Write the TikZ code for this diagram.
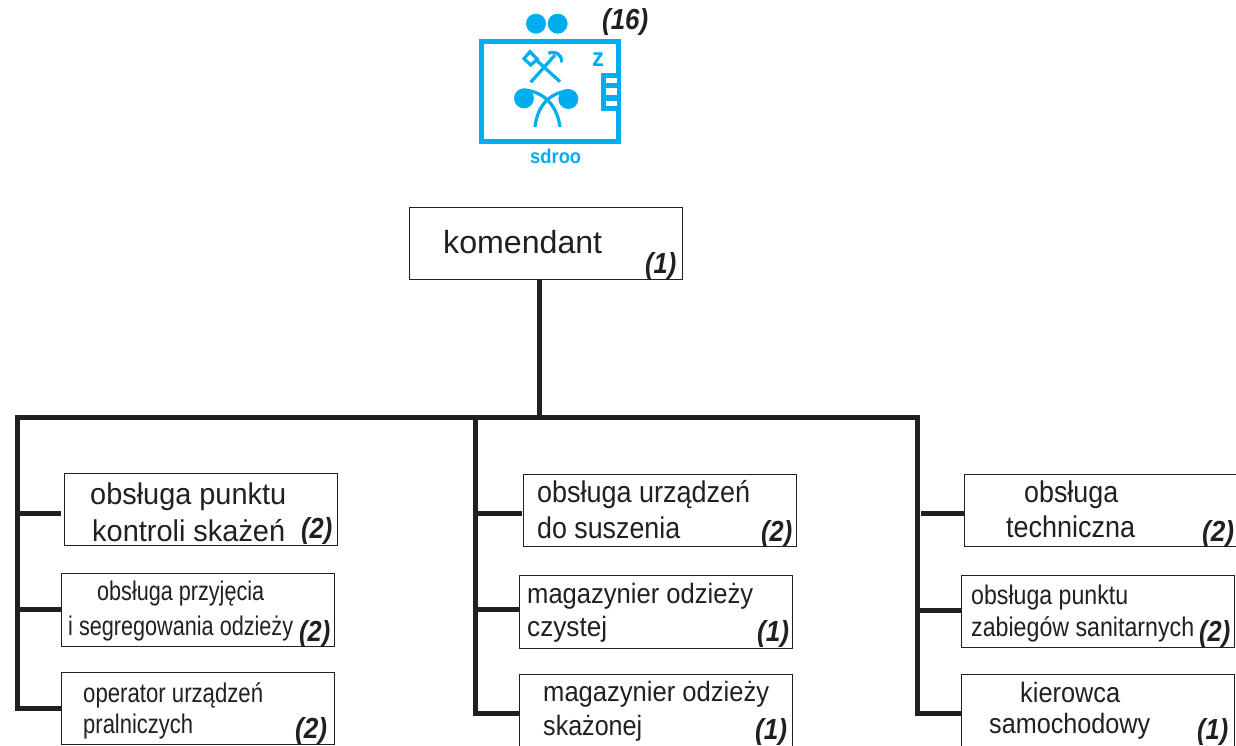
\documentclass[tikz,border=0pt]{standalone}
\usepackage{fontspec}
\usepackage{graphicx}
\setmainfont{Liberation Sans}
\newcommand\fitw[3]{\resizebox{#1pt}{\height}{\fontsize{#2pt}{#2pt}\selectfont #3}}
\newcommand\cnt[2]{\resizebox{#1pt}{\height}{\fontsize{29pt}{29pt}\selectfont\bfseries\itshape #2}}
\definecolor{badge}{HTML}{00AEEF}
\definecolor{ink}{HTML}{231F20}
\tikzset{
  box/.style={draw=ink,line width=0.8pt,fill=white,inner sep=0pt,anchor=north west},
  lab/.style={inner sep=0pt,anchor=base west,text=ink},
  conn/.style={draw=ink,line width=5pt},
  sym/.style={draw=badge,line width=3.2pt}
}
\begin{document}
\begin{tikzpicture}[x=1pt,y=-1pt]
\useasboundingbox (0,0) rectangle (1236,745);
\fill[white] (0,0) rectangle (1236,745);
% boxes
\node[box,minimum width=273pt,minimum height=72pt] (kom) at (408.5,207) {};
\node[box,minimum width=273pt,minimum height=72pt] (a1) at (63.5,473) {};
\node[box,minimum width=273pt,minimum height=73pt] (a2) at (60.5,573) {};
\node[box,minimum width=273pt,minimum height=72pt] (a3) at (60.5,672) {};
\node[box,minimum width=273pt,minimum height=72pt] (b1) at (522.5,474) {};
\node[box,minimum width=273pt,minimum height=73pt] (b2) at (518.5,575) {};
\node[box,minimum width=273pt,minimum height=73pt] (b3) at (518.5,674) {};
\node[box,minimum width=280pt,minimum height=72pt] (c1) at (963.5,474) {};
\node[box,minimum width=273pt,minimum height=72pt] (c2) at (960.5,575) {};
\node[box,minimum width=273pt,minimum height=73pt] (c3) at (960.5,674) {};
% connectors
\coordinate (jt) at (539.5,417);
\coordinate (tl) at (17,417);
\coordinate (tm) at (475,417);
\coordinate (tr) at (917,417);
\coordinate (a1s) at (17,513);
\coordinate (a2s) at (17,609);
\coordinate (a3s) at (17,708);
\coordinate (b1s) at (475,513);
\coordinate (b2s) at (475,609);
\coordinate (b3s) at (475,713);
\coordinate (c1s) at (921,513);
\coordinate (c2s) at (917,610);
\coordinate (c3s) at (917,713);
\draw[conn] (kom.south -| jt) -- (jt);
\draw[conn] (a3.west |- a3s) -- (a3s) -- (tl) -- (tr) -- (c3s) -- (c3.west |- c3s);
\draw[conn] (tm) -- (b3s) -- (b3.west |- b3s);
\draw[conn] (a1s) -- ([xshift=-3pt]a1.west |- a1s);
\draw[conn] (a2s) -- (a2.west |- a2s);
\draw[conn] (b1s) -- ([xshift=-1pt]b1.west |- b1s);
\draw[conn] (b2s) -- (b2.west |- b2s);
\draw[conn] (c1s) -- (c1.west |- c1s);
\draw[conn] (c2s) -- (c2.west |- c2s);
% labels
\node[lab] (t0) at (443,253) {\fitw{159}{32}{komendant}};
\node[lab] (n0) at (645,273) {\cnt{31}{(1)}};
\node[lab] (t1) at (90,504) {\fitw{196}{30}{obsługa punktu}};
\node[lab] (t2) at (92,541) {\fitw{193}{30}{kontroli skażeń}};
\node[lab] (n1) at (301,538) {\cnt{31}{(2)}};
\node[lab] (t3) at (97,600) {\fitw{167}{27}{obsługa przyjęcia}};
\node[lab] (t4) at (68,635) {\fitw{225}{27}{i segregowania odzieży}};
\node[lab] (n2) at (299,641) {\cnt{31}{(2)}};
\node[lab] (t5) at (83,702) {\fitw{180}{27}{operator urządzeń}};
\node[lab] (t6) at (83,733) {\fitw{110}{27}{pralniczych}};
\node[lab] (n3) at (295,738) {\cnt{32}{(2)}};
\node[lab] (t7) at (537,502) {\fitw{213}{30}{obsługa urządzeń}};
\node[lab] (t8) at (537,538) {\fitw{143}{30}{do suszenia}};
\node[lab] (n4) at (761,541) {\cnt{31}{(2)}};
\node[lab] (t9) at (527,603) {\fitw{226}{28}{magazynier odzieży}};
\node[lab] (t10) at (527,636) {\fitw{80}{28}{czystej}};
\node[lab] (n5) at (757,641) {\cnt{32}{(1)}};
\node[lab] (t11) at (543,701) {\fitw{226}{28}{magazynier odzieży}};
\node[lab] (t12) at (543,735) {\fitw{99}{28}{skażonej}};
\node[lab] (n6) at (755,739) {\cnt{32}{(1)}};
\node[lab] (t13) at (1024,502) {\fitw{94}{30}{obsługa}};
\node[lab] (t14) at (1006,537) {\fitw{129}{30}{techniczna}};
\node[lab] (n7) at (1202,541) {\cnt{32}{(2)}};
\node[lab] (t15) at (971,604) {\fitw{157}{27}{obsługa punktu}};
\node[lab] (t16) at (971,636) {\fitw{223}{27}{zabiegów sanitarnych}};
\node[lab] (n8) at (1199,641) {\cnt{31}{(2)}};
\node[lab] (t17) at (1020,702) {\fitw{100}{28}{kierowca}};
\node[lab] (t18) at (989,733) {\fitw{161}{28}{samochodowy}};
\node[lab] (n9) at (1197,739) {\cnt{31}{(1)}};
\node[lab] (n10) at (602,29) {\cnt{46}{(16)}};
% badge
\begin{scope}[shift={(460,0)},x=0.3333pt,y=-0.3333pt]
\draw[badge,line width=5pt] (64.5,125.5) rectangle (476.5,425.5);
\fill[badge] (228,71) circle[radius=10pt];
\fill[badge] (293,71) circle[radius=10pt];
\fill[badge] (192,295) circle[radius=10pt];
\fill[badge] (325,297) circle[radius=10pt];
\draw[sym] (212,247) -- (285,165);
\draw[sym] (300,245) -- (232,183);
\draw[sym] (210,155) -- (232,178) -- (212,195) -- (192,176) -- cycle;
\draw[sym] (265,160) .. controls (285,152) and (305,160) .. (305,187);
\draw[sym] (192,270) .. controls (255,275) and (292,320) .. (300,381);
\draw[sym] (325,272) .. controls (265,280) and (232,320) .. (225,381);
\fill[badge] (422,218) rectangle (470,332);
\fill[white] (438,235) rectangle (470,248);
\fill[white] (438,265) rectangle (470,285);
\fill[white] (438,302) rectangle (470,317);
\end{scope}
\node[lab,text=badge] (z) at (592,66) {\fitw{12}{26}{\bfseries z}};
\node[lab,text=badge] (sd) at (530,163) {\fitw{51}{20}{\bfseries sdroo}};
\end{tikzpicture}
\end{document}
